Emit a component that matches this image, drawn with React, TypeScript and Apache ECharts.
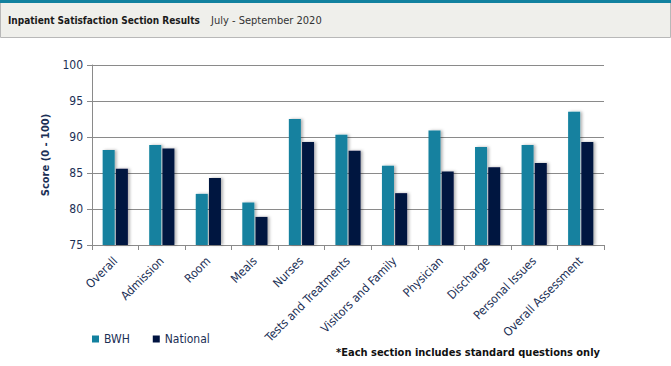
import React, { useEffect, useRef } from "react";
import * as echarts from "echarts";

const categories = [
  "Overall",
  "Admission",
  "Room",
  "Meals",
  "Nurses",
  "Tests and Treatments",
  "Visitors and Family",
  "Physician",
  "Discharge",
  "Personal Issues",
  "Overall Assessment",
];
const bwh = [88.2, 88.9, 82.1, 80.9, 92.5, 90.3, 86.0, 90.9, 88.6, 88.9, 93.5];
const national = [85.6, 88.4, 84.3, 78.9, 89.3, 88.1, 82.2, 85.2, 85.8, 86.4, 89.3];
const yTicks = { min: 75, max: 100, interval: 5 };

const FONT = "'DejaVu Sans Condensed', 'DejaVu Sans', sans-serif";
const NAVY = "#1b2f55";

export default function App() {
  const ref = useRef<HTMLDivElement>(null);
  useEffect(() => {
    if (!ref.current) return;
    const chart = echarts.init(ref.current, undefined, { renderer: "svg" });
    const shadow = {
      shadowColor: "rgba(0,0,0,0.3)",
      shadowBlur: 3,
      shadowOffsetX: 2,
      shadowOffsetY: 0,
    };
    chart.setOption({
      animation: false,
      backgroundColor: "#ffffff",
      textStyle: { fontFamily: FONT },
      grid: { left: 92, right: 67, top: 65, bottom: 121, containLabel: false },
      legend: {
        left: 87,
        top: 328,
        icon: "rect",
        itemWidth: 7,
        itemHeight: 7,
        itemGap: 23,
        textStyle: { fontFamily: FONT, fontSize: 12, color: NAVY },
        data: ["BWH", "National"],
      },
      xAxis: {
        type: "category",
        data: categories,
        axisLine: { lineStyle: { color: "#8a8a8a", width: 1 } },
        axisTick: { show: true, length: 5, lineStyle: { color: "#8a8a8a" } },
        axisLabel: {
          rotate: 45,
          interval: 0,
          fontSize: 12,
          color: NAVY,
          fontFamily: FONT,
          margin: 14,
        },
      },
      yAxis: {
        type: "value",
        min: yTicks.min,
        max: yTicks.max,
        interval: yTicks.interval,
        name: "Score (0 - 100)",
        nameLocation: "middle",
        nameGap: 31,
        nameTextStyle: {
          fontFamily: FONT,
          fontWeight: "bold",
          fontSize: 11,
          color: NAVY,
        },
        axisLine: { show: true, lineStyle: { color: "#8a8a8a" } },
        axisTick: { show: true, length: 5, lineStyle: { color: "#8a8a8a" } },
        axisLabel: { fontSize: 12, color: NAVY, fontFamily: FONT, margin: 9 },
        splitLine: { lineStyle: { color: "#8a8a8a", width: 1 } },
      },
      series: [
        {
          name: "BWH",
          type: "bar",
          data: bwh,
          barWidth: 12,
          barGap: "10%",
          itemStyle: { color: "#12819f", ...shadow },
        },
        {
          name: "National",
          type: "bar",
          data: national,
          barWidth: 12,
          itemStyle: { color: "#001340", ...shadow },
        },
      ],
      graphic: [
        {
          type: "rect",
          shape: { x: 0.5, y: 0.5, width: 670, height: 37 },
          style: { fill: "#efefeb", stroke: "#b8b8b8", lineWidth: 1 },
          silent: true,
        },
        {
          type: "rect",
          shape: { x: 0, y: 0, width: 671, height: 3 },
          style: { fill: "#12819f" },
          silent: true,
        },
        {
          type: "text",
          x: 8,
          y: 20,
          style: {
            text: "Inpatient Satisfaction Section Results",
            fontFamily: FONT,
            fontWeight: "bold",
            fontSize: 10,
            fill: "#1a1a1a",
            verticalAlign: "middle",
          },
        },
        {
          type: "text",
          x: 211,
          y: 20,
          style: {
            text: "July - September 2020",
            fontFamily: FONT,
            fontSize: 11,
            fill: "#333333",
            verticalAlign: "middle",
          },
        },
        {
          type: "text",
          x: 600,
          y: 352,
          style: {
            text: "*Each section includes standard questions only",
            fontFamily: FONT,
            fontWeight: "bold",
            fontSize: 11,
            fill: "#111111",
            align: "right",
            verticalAlign: "middle",
          },
        },
      ],
    });
    return () => chart.dispose();
  }, []);
  return (
    <div
      ref={ref}
      style={{ position: "fixed", left: 0, top: 0, width: 671, height: 366 }}
    />
  );
}
